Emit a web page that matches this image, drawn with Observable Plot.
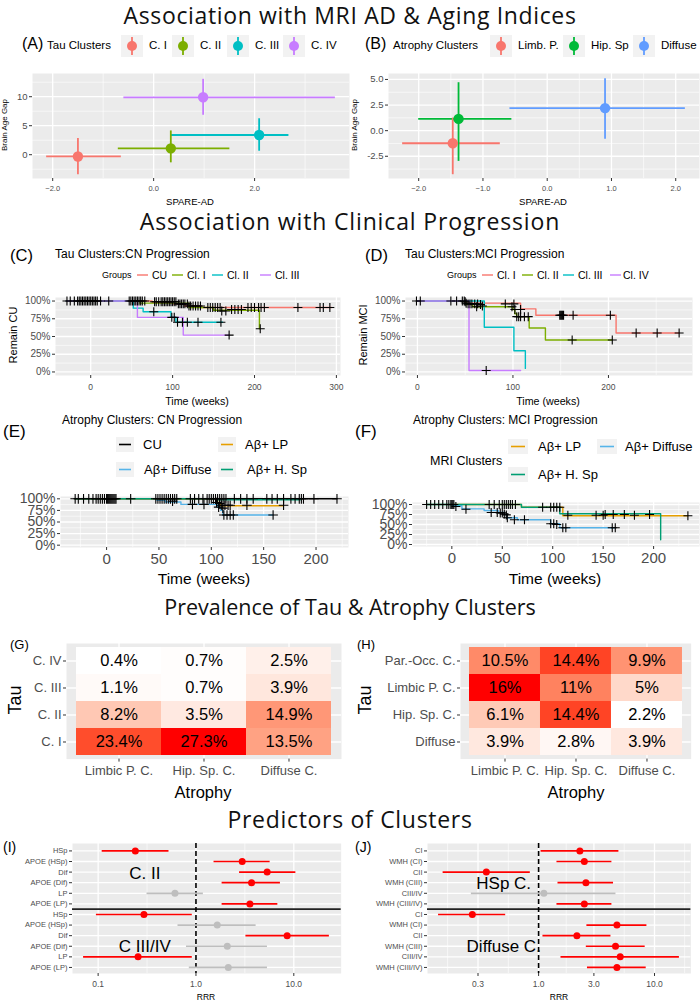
<!DOCTYPE html>
<html>
<head>
<meta charset="utf-8">
<script src="https://cdn.jsdelivr.net/npm/d3@7"></script>
<script src="https://cdn.jsdelivr.net/npm/@observablehq/plot@0.6"></script>
<style>
html,body{margin:0;padding:0;background:#fff;}
#root{position:relative;width:700px;height:1001px;overflow:hidden;background:#fff;}
</style>
</head>
<body>
<div id="root"></div>
<script>
// ================= DATA =================
// (A) Tau clusters: SPARE-AD vs Brain Age Gap (mean and CI)
const tauClusters = ["C. I", "C. II", "C. III", "C. IV"];
const tauSpareAD  = [-1.50, 0.34, 2.09, 0.98];
const tauSpareLo  = [-2.12, -0.70, 0.35, -0.59];
const tauSpareHi  = [-0.64, 1.51, 2.68, 3.60];
const tauBAG      = [-0.30, 1.10, 3.40, 9.90];
const tauBAGLo    = [-3.45, -1.40, 0.60, 6.80];
const tauBAGHi    = [2.80, 4.10, 6.20, 13.00];
// (B) Atrophy clusters
const atrClusters = ["Limb. P.", "Hip. Sp", "Diffuse"];
const atrSpareAD  = [-1.47, -1.38, 0.90];
const atrSpareLo  = [-2.25, -2.00, -0.58];
const atrSpareHi  = [-0.73, -0.55, 2.15];
const atrBAG      = [-1.23, 1.15, 2.20];
const atrBAGLo    = [-4.30, -3.00, -0.85];
const atrBAGHi    = [1.23, 4.68, 5.07];

// (C) Tau clusters, CN progression: [weeks, % remaining]
const groupsC = ["CU", "Cl. I", "Cl. II", "Cl. III"];
const kmC_CU  = [[-30,100],[75,98],[100,96],[115,93],[135,91],[294,91]];
const kmC_C1  = [[-30,100],[60,97],[120,91],[150,87],[206,61]];
const kmC_C2  = [[-30,100],[52,90],[64,85],[98,77],[104,70],[161,70]];
const kmC_C3  = [[-30,100],[57,77],[113,52],[169,52]];
const censorC = [[-29,100],[-25,100],[-20,100],[-16,100],[-14,100],[-12,100],[-10,100],[-8,100],[-6,100],[-4,100],[-2,100],[0,100],[2,100],[4,100],[6,100],[8,100],[12,100],[22,100],
  [47,100],[49,100],[51,100],[53,100],[55,100],[57,100],[59,100],[61,100],[63,100],[66,100],
  [78,99],[80,99],[83,99],[86,99],[88,99],[90,99],[92,99],[94,99],[96,99],[98,99],[100,99],[102,99],[104,99],
  [107,96],[109,96],[111,96],[113,96],[115,96],[118,96],[120,93],[122,93],[125,93],[128,93],[131,93],[134,93],
  [143,91],[146,91],[149,91],[152,91],[155,91],[158,91],[160,86],[165,86],[172,88],[176,88],[180,88],[184,88],
  [192,91],[196,91],[200,91],[205,91],[208,91],[212,91],[253,91],[280,91],[284,91],[292,91],
  [77,85],[99,77],[102,77],[106,70],[112,70],[118,70],[131,70],[159,70],[169,52],[207,61]];

// (D) Tau clusters, MCI progression
const groupsD = ["Cl. I", "Cl. II", "Cl. III", "Cl. IV"];
const kmD_C1  = [[-1,100],[50,97],[108,89],[124,80],[208,55],[274,55]];
const kmD_C2  = [[-1,100],[51,95],[58,92],[100,88],[102,82],[104,78],[117,62],[134,45],[204,45]];
const kmD_C3  = [[-1,100],[70,63],[101,30],[113,5]];
const kmD_C4  = [[-1,100],[54,2],[108,2]];
const censorD = [[-1,100],[3,100],[35,100],[41,100],[47,100],[49,100],[50,99],[51,97],[53,96],[55,96],[57,96],[60,96],[63,96],[66,95],[68,93],[62,92],
  [92,96],[101,96],[99,92],[102,88],[108,88],[104,78],[106,78],[108,78],[112,78],[116,78],
  [149,80],[150,80],[151,80],[152,80],[153,80],[163,80],[202,80],[229,55],[251,55],[274,55],[162,45],[204,45],[72,2]];

// (E) Atrophy clusters, CN progression
const groupsE = ["CU", "Aβ+ Diffuse", "Aβ+ LP", "Aβ+ H. Sp"];
const kmE_CU  = [[-30,100],[220,100]];
const kmE_Dif = [[-30,100],[48,97],[56,93],[71,88],[106,82],[109,75],[111,65],[159,65]];
const kmE_LP  = [[-30,100],[106,90],[109,85],[169,85]];
const kmE_HSp = [[-30,100],[105,98],[185,98]];
const censorE = [[-30,100],[-27,100],[-22,100],[-17,100],[-13,100],[-10,100],[-8,100],[-6,100],[-4,100],[-2,100],[0,100],[1,100],[2,100],[3,100],[4,100],[5,100],[6,100],[7,100],[8,100],[9,100],[23,100],
  [47,100],[49,100],[51,100],[53,100],[55,100],[57,100],[59,100],[61,100],[63,100],[65,100],[67,100],
  [80,100],[84,100],[88,100],[92,100],[96,100],[98,100],[100,100],[102,100],[104,100],[106,100],[108,100],[110,100],[112,100],[114,100],
  [122,100],[128,100],[134,100],[140,100],[153,100],[158,100],[163,100],[169,100],[176,100],[180,100],[184,100],[186,100],[188,100],[198,100],[220,100],
  [63,95],[82,88],[93,88],[107,82],[112,65],[115,65],[118,65],[121,65],[159,65],
  [110,86],[113,86],[116,86],[118,86],[134,86],[169,86],[105,92],[108,90],[111,80]];

// (F) Atrophy clusters, MCI progression
const groupsF = ["Aβ+ LP", "Aβ+ Diffuse", "Aβ+ H. Sp"];
const kmF_LP  = [[-25,100],[69,93],[110,72],[234,72]];
const kmF_Dif = [[-25,100],[1,97],[10,89],[32,85],[46,80],[52,75],[55,67],[65,62],[98,52],[107,42],[161,42]];
const kmF_HSp = [[-25,100],[69,93],[107,77],[207,12]];
const censorF = [[-25,100],[-21,100],[-17,100],[-13,100],[-9,100],[-5,100],[-3,100],[-1,100],[0,100],[1,100],[2,100],
  [37,100],[42,100],[47,100],[50,100],[52,100],[54,100],[56,100],[58,100],[60,100],[63,100],
  [90,93],[98,93],[101,93],[104,93],[107,93],
  [4,95],[14,88],[39,80],[45,80],[48,79],[50,79],[52,76],[54,74],[55,67],[62,62],[72,62],[98,52],[101,52],[104,50],[110,42],[113,42],[159,42],[162,42],
  [115,73],[143,73],[150,73],[152,75],[160,75],[171,75],[181,73],[196,75],[234,72]];

// (G)/(H) Prevalence heatmaps (%), rows top to bottom
const atrophyCats = ["Limbic P. C.", "Hip. Sp. C.", "Diffuse C."];
const tauRowsG = ["C. IV", "C. III", "C. II", "C. I"];
const prevG = [[0.4, 0.7, 2.5], [1.1, 0.7, 3.9], [8.2, 3.5, 14.9], [23.4, 27.3, 13.5]];
const tauRowsH = ["Par.-Occ. C.", "Limbic P. C.", "Hip. Sp. C.", "Diffuse"];
const prevH = [[10.5, 14.4, 9.9], [16, 11, 5], [6.1, 14.4, 2.2], [3.9, 2.8, 3.9]];

// (I) Predictors of tau clusters (RRR, 95% CI)
const predLabelsI = ["HSp", "APOE (HSp)", "Dif", "APOE (Dif)", "LP", "APOE (LP)", "HSp", "APOE (HSp)", "Dif", "APOE (Dif)", "LP", "APOE (LP)"];
const rrrI   = [0.24, 2.97, 5.34, 3.70, 0.61, 3.56, 0.294, 1.65, 8.55, 2.09, 0.256, 2.14];
const rrrILo = [0.11, 1.53, 2.79, 1.85, 0.316, 1.85, 0.096, 0.655, 3.24, 0.80, 0.071, 0.855];
const rrrIHi = [0.53, 5.73, 10.5, 7.30, 1.19, 6.87, 0.917, 4.12, 23.1, 5.38, 0.917, 5.38];
const sigI   = [1, 1, 1, 1, 0, 1, 1, 0, 1, 0, 1, 0];
// (J) Predictors of atrophy clusters
const predLabelsJ = ["CI", "WMH (CI)", "CII", "WMH (CIII)", "CIII/IV", "WMH (CIII/IV)", "CI", "WMH (CI)", "CII", "WMH (CIII)", "CIII/IV", "WMH (CIII/IV)"];
const rrrJ   = [2.27, 2.48, 0.354, 2.56, 1.11, 2.48, 0.268, 4.74, 2.14, 4.61, 5.06, 4.74];
const rrrJLo = [1.05, 1.44, 0.15, 1.47, 0.263, 1.44, 0.137, 2.61, 1.09, 2.58, 1.56, 2.64];
const rrrJHi = [4.93, 4.29, 0.848, 4.43, 4.65, 4.29, 0.52, 8.6, 4.21, 8.31, 16.4, 8.48];
const sigJ   = [1, 1, 1, 1, 0, 1, 1, 1, 1, 1, 1, 1];

// ================= STYLE =================
const FONT = '"Liberation Sans", Arial, sans-serif';
const TITLEFONT = '"Open Sans", "Noto Sans", sans-serif';
const tauPal = ["#F8766D", "#7CAE00", "#00BFC4", "#C77CFF"];
const atrPal = ["#F8766D", "#00BA38", "#619CFF"];
const okabeE = ["#000000", "#56B4E9", "#E69F00", "#009E73"];
const okabeF = ["#E69F00", "#56B4E9", "#009E73"];
const PANEL = "#EBEBEB", AX = "#4D4D4D", TK = "#333333";

const root = document.getElementById("root");

function label(str, x, y, o = {}) {
  const d = document.createElement("div");
  d.textContent = str;
  const tx = o.anchor === "middle" ? "-50%" : o.anchor === "end" ? "-100%" : "0";
  d.style.cssText = `position:absolute;white-space:nowrap;line-height:1;left:${x}px;top:${y}px;` +
    `font-family:${o.font || FONT};font-size:${o.size || 10}px;color:${o.color || "#000"};` +
    (o.spacing ? `letter-spacing:${o.spacing}px;` : "") +
    `transform:translate(${o.rotate ? "-50%" : tx},-50%)${o.rotate ? ` rotate(${o.rotate}deg)` : ""};`;
  root.appendChild(d);
}
function glyph(x, y, w, h, inner) {
  const d = document.createElement("div");
  d.style.cssText = `position:absolute;left:${x}px;top:${y}px;width:${w}px;height:${h}px;`;
  d.innerHTML = `<svg width="${w}" height="${h}" xmlns="http://www.w3.org/2000/svg" style="display:block">${inner}</svg>`;
  root.appendChild(d);
}
function panel(o) {
  const {fx, fy, fw, fh, ml = 40, mr = 10, mt = 6, mb = 30, ...rest} = o;
  const svg = Plot.plot({
    width: ml + fw + mr, height: mt + fh + mb,
    marginLeft: ml, marginRight: mr, marginTop: mt, marginBottom: mb,
    style: {fontFamily: FONT, background: "transparent", overflow: "visible", color: AX},
    ...rest
  });
  svg.style.position = "absolute";
  svg.style.left = (fx - ml) + "px";
  svg.style.top = (fy - mt) + "px";
  svg.style.maxWidth = "none";
  root.appendChild(svg);
}
const white = (vals, w) => [Plot.ruleX(vals.x, {stroke: "white", strokeWidth: w}), Plot.ruleY(vals.y, {stroke: "white", strokeWidth: w})];

// ================= SECTION TITLES =================
label("Association with MRI AD & Aging Indices", 350, 15, {anchor: "middle", size: 23, spacing: 0.65, font: TITLEFONT, color: "#111"});
label("Association with Clinical Progression", 350, 221, {anchor: "middle", size: 23, spacing: 0.85, font: TITLEFONT, color: "#111"});
label("Prevalence of Tau & Atrophy Clusters", 350, 607, {anchor: "middle", size: 21.5, font: TITLEFONT, color: "#111"});
label("Predictors of Clusters", 350, 819, {anchor: "middle", size: 23, spacing: 0.7, font: TITLEFONT, color: "#111"});

// ================= A / B =================
function scatterPanel(o) {
  const rows = o.names.map((n, i) => ({n, x: o.x[i], xlo: o.xlo[i], xhi: o.xhi[i], y: o.y[i], ylo: o.ylo[i], yhi: o.yhi[i]}));
  panel({
    fx: o.fx, fy: o.fy, fw: o.fw, fh: o.fh, ml: 34, mr: 6, mt: 6, mb: 22,
    x: {domain: o.xd}, y: {domain: o.yd},
    color: {domain: o.names, range: o.pal},
    marks: [
      Plot.frame({fill: PANEL, stroke: "none"}),
      ...white({x: o.xMinor, y: o.yMinor}, 0.6),
      ...white({x: o.xMajor, y: o.yMajor}, 1.3),
      Plot.ruleY(rows, {y: "y", x1: "xlo", x2: "xhi", stroke: "n", strokeWidth: 1.8}),
      Plot.ruleX(rows, {x: "x", y1: "ylo", y2: "yhi", stroke: "n", strokeWidth: 1.8}),
      Plot.dot(rows, {x: "x", y: "y", fill: "n", r: 5.2}),
      Plot.axisX({ticks: o.xMajor, tickSize: 3, tickPadding: 4, fontSize: 7.5, label: null, stroke: TK, fill: AX}),
      Plot.axisY({ticks: o.yMajor, tickFormat: o.yFmt, tickSize: 3, tickPadding: 2, fontSize: 9.5, label: null, stroke: TK, fill: AX})
    ]
  });
}
scatterPanel({fx: 32, fy: 73, fw: 317, fh: 105, xd: [-2.4, 3.88], yd: [-4.1, 14],
  names: tauClusters, pal: tauPal, x: tauSpareAD, xlo: tauSpareLo, xhi: tauSpareHi, y: tauBAG, ylo: tauBAGLo, yhi: tauBAGHi,
  xMajor: [-2, 0, 2], xMinor: [-1, 1, 3], yMajor: [0, 5, 10], yMinor: [-2.5, 2.5, 7.5, 12.5], yFmt: d => d});
scatterPanel({fx: 388, fy: 73, fw: 311, fh: 105, xd: [-2.47, 2.37], yd: [-4.67, 5.58],
  names: atrClusters, pal: atrPal, x: atrSpareAD, xlo: atrSpareLo, xhi: atrSpareHi, y: atrBAG, ylo: atrBAGLo, yhi: atrBAGHi,
  xMajor: [-2, -1, 0, 1, 2], xMinor: [-1.5, -0.5, 0.5, 1.5], yMajor: [-2.5, 0, 2.5, 5], yMinor: [-3.75, -1.25, 1.25, 3.75], yFmt: d => d.toFixed(1)});

label("(A)", 22, 44, {size: 16});
label("Tau Clusters", 47, 46, {size: 11.5});
[121, 172, 227, 283].forEach((x, i) => {
  glyph(x, 35, 22, 22, `<rect width="22" height="22" fill="#F2F2F2"/><line x1="11" x2="11" y1="2" y2="20" stroke="${tauPal[i]}" stroke-width="1.8"/><circle cx="11" cy="11" r="5" fill="${tauPal[i]}"/>`);
  label(tauClusters[i], x + 28, 46, {size: 11.5});
});
label("(B)", 365, 44, {size: 16});
label("Atrophy Clusters", 393, 46, {size: 11.5});
[490, 563, 633].forEach((x, i) => {
  glyph(x, 35, 22, 22, `<rect width="22" height="22" fill="#F2F2F2"/><line x1="11" x2="11" y1="2" y2="20" stroke="${atrPal[i]}" stroke-width="1.8"/><circle cx="11" cy="11" r="5" fill="${atrPal[i]}"/>`);
  label(atrClusters[i], x + 28, 46, {size: 11.5});
});
label("Brain Age Gap", 5, 125, {size: 8, rotate: -90});
label("Brain Age Gap", 355, 125, {size: 8, rotate: -90});
label("SPARE-AD", 190, 202, {anchor: "middle", size: 9.5});
label("SPARE-AD", 543, 202, {anchor: "middle", size: 9.5});

// ================= C / D / E / F (Kaplan-Meier) =================
function kmPanel(o) {
  const rows = o.curves.flatMap(([g, pts]) => pts.map(([t, s]) => ({g, t, s})));
  const cens = o.censors.map(([t, s]) => ({t, s}));
  panel({
    fx: o.fx, fy: o.fy, fw: o.fw, fh: o.fh, ml: 45, mr: 8, mt: 6, mb: 30,
    x: {domain: o.xd}, y: {domain: [-5, 105]},
    color: {domain: o.groups, range: o.pal},
    marks: [
      Plot.frame({fill: PANEL, stroke: "none"}),
      ...white({x: o.xMinor, y: [12.5, 37.5, 62.5, 87.5]}, 0.6),
      ...white({x: o.xMajor, y: [0, 25, 50, 75, 100]}, 1.3),
      Plot.line(rows, {x: "t", y: "s", z: "g", stroke: "g", curve: "step-after", strokeWidth: 1.4}),
      Plot.dot(cens, {x: "t", y: "s", symbol: "plus", r: o.plusR, stroke: "black", strokeWidth: 1.1}),
      Plot.axisX({ticks: o.xMajor, tickSize: 3, tickPadding: o.xPad, fontSize: o.xFs, label: null, stroke: TK, fill: AX}),
      Plot.axisY({ticks: [0, 25, 50, 75, 100], tickFormat: d => d + "%", tickSize: 3, tickPadding: 2, fontSize: o.yFs, label: null, stroke: TK, fill: AX})
    ]
  });
}
kmPanel({fx: 55, fy: 297, fw: 285, fh: 78, xd: [-43, 305], groups: groupsC, pal: tauPal,
  curves: [["CU", kmC_CU], ["Cl. I", kmC_C1], ["Cl. II", kmC_C2], ["Cl. III", kmC_C3]], censors: censorC,
  xMajor: [0, 100, 200, 300], xMinor: [50, 150, 250], plusR: 3, xFs: 8.5, yFs: 10, xPad: 5});
kmPanel({fx: 405, fy: 297, fw: 287, fh: 78, xd: [-12.5, 288], groups: groupsD, pal: tauPal,
  curves: [["Cl. I", kmD_C1], ["Cl. II", kmD_C2], ["Cl. III", kmD_C3], ["Cl. IV", kmD_C4]], censors: censorD,
  xMajor: [0, 100, 200], xMinor: [50, 150, 250], plusR: 3, xFs: 8.5, yFs: 10, xPad: 5});
kmPanel({fx: 60, fy: 496, fw: 288, fh: 51, xd: [-44, 231], groups: groupsE, pal: okabeE,
  curves: [["CU", kmE_CU], ["Aβ+ Diffuse", kmE_Dif], ["Aβ+ LP", kmE_LP], ["Aβ+ H. Sp", kmE_HSp]], censors: censorE,
  xMajor: [0, 50, 100, 150, 200], xMinor: [-25, 25, 75, 125, 175, 225], plusR: 3.2, xFs: 15, yFs: 14, xPad: 3});
kmPanel({fx: 412, fy: 502, fw: 287, fh: 44, xd: [-39, 245.5], groups: groupsF, pal: okabeF,
  curves: [["Aβ+ LP", kmF_LP], ["Aβ+ Diffuse", kmF_Dif], ["Aβ+ H. Sp", kmF_HSp]], censors: censorF,
  xMajor: [0, 50, 100, 150, 200], xMinor: [-25, 25, 75, 125, 175, 225], plusR: 3, xFs: 15, yFs: 14, xPad: 3});

// C / D headers and legends
label("(C)", 10, 255, {size: 16.5});
label("Tau Clusters:CN Progression", 55, 254, {size: 12});
label("Groups", 102, 275, {size: 9});
[[137, 152], [172, 187], [212, 227], [260, 275]].forEach(([k, t], i) => {
  glyph(k, 270, 11, 10, `<line x1="0" x2="11" y1="5" y2="5" stroke="${tauPal[i]}" stroke-width="1.4"/>`);
  label(groupsC[i], t, 275, {size: 10.5});
});
label("(D)", 365, 255, {size: 16.5});
label("Tau Clusters:MCI Progression", 405, 254, {size: 12});
label("Groups", 447, 275, {size: 9});
[[482, 497], [522, 537], [563, 578], [610, 623]].forEach(([k, t], i) => {
  glyph(k, 270, 11, 10, `<line x1="0" x2="11" y1="5" y2="5" stroke="${tauPal[i]}" stroke-width="1.4"/>`);
  label(groupsD[i], t, 275, {size: 10.5});
});
label("Remain CU", 13, 335, {size: 11, rotate: -90});
label("Remain MCI", 363, 335, {size: 11, rotate: -90});
label("Time (weeks)", 197, 401, {anchor: "middle", size: 10.7});
label("Time (weeks)", 548, 401, {anchor: "middle", size: 10.7});

// E / F headers and legends
label("(E)", 3, 431, {size: 17});
label("Atrophy Clusters: CN Progression", 62, 420, {size: 12});
[[116, 437, 143, 444, 0], [218, 437, 245, 444, 2], [116, 462, 144, 469, 1], [218, 462, 247, 469, 3]].forEach(([kx, ky, tx, ty, i]) => {
  glyph(kx, ky, 18, 15, `<rect width="18" height="15" fill="#F2F2F2"/><line x1="3" x2="15" y1="7.5" y2="7.5" stroke="${okabeE[i]}" stroke-width="1.6"/>`);
  label(groupsE[i], tx, ty, {size: 13});
});
label("(F)", 355, 431, {size: 17});
label("Atrophy Clusters: MCI Progression", 413, 420, {size: 12});
label("MRI Clusters", 430, 461, {size: 12.5});
[[508, 439, 538, 446, 0], [597, 439, 625, 446, 1], [508, 467, 538, 474, 2]].forEach(([kx, ky, tx, ty, i]) => {
  glyph(kx, ky, 20, 15, `<rect width="20" height="15" fill="#F2F2F2"/><line x1="3" x2="17" y1="7.5" y2="7.5" stroke="${okabeF[i]}" stroke-width="1.6"/>`);
  label(groupsF[i], tx, ty, {size: 13});
});
label("Time (weeks)", 204, 579, {anchor: "middle", size: 15.5});
label("Time (weeks)", 555, 579, {anchor: "middle", size: 15.5});

// ================= G / H heatmaps =================
function heat(o) {
  const cells = o.rows.flatMap((r, i) => atrophyCats.map((c, j) => ({tau: r, atr: c, v: o.vals[i][j]})));
  panel({
    fx: o.fx, fy: o.fy, fw: o.fw, fh: o.fh, ml: 80, mr: 8, mt: 6, mb: 40,
    x: {type: "band", domain: atrophyCats, padding: 0, insetLeft: o.il, insetRight: o.ir},
    y: {type: "band", domain: o.rows, padding: 0, insetTop: 3.3, insetBottom: 2.3},
    color: {type: "linear", domain: d3.extent(cells, d => d.v), range: ["white", "red"], interpolate: "lab"},
    marks: [
      Plot.frame({fill: PANEL, stroke: "none"}),
      Plot.gridX({stroke: "white", strokeOpacity: 1, strokeWidth: 1.3}),
      Plot.gridY({stroke: "white", strokeOpacity: 1, strokeWidth: 1.3}),
      Plot.cell(cells, {x: "atr", y: "tau", fill: "v"}),
      Plot.text(cells, {x: "atr", y: "tau", text: d => d.v + "%", fontSize: 16.5, fill: "black"}),
      Plot.axisX({tickSize: 3, tickPadding: 4, fontSize: 13, label: null, stroke: TK, fill: AX}),
      Plot.axisY({tickSize: 3, tickPadding: 2, fontSize: 13, label: null, stroke: TK, fill: AX})
    ]
  });
}
heat({fx: 66, fy: 642.7, fw: 275, fh: 115.6, il: 9, ir: 8.3, rows: tauRowsG, vals: prevG});
heat({fx: 460, fy: 642.7, fw: 230.7, fh: 115.6, il: 8.3, ir: 7.4, rows: tauRowsH, vals: prevH});
label("(G)", 10, 644, {size: 13});
label("(H)", 357, 644, {size: 13});
label("Tau", 15, 700, {size: 18, rotate: -90});
label("Tau", 365, 700, {size: 18, rotate: -90});
label("Atrophy", 203, 792, {anchor: "middle", size: 16.5});
label("Atrophy", 576, 792, {anchor: "middle", size: 16.5});

// ================= I / J forest plots =================
function forest(o) {
  const rows = o.labels.map((l, i) => ({i, est: o.est[i], lo: o.lo[i], hi: o.hi[i], sig: o.sig[i]}));
  panel({
    fx: o.fx, fy: o.fy, fw: o.fw, fh: o.fh, ml: 70, mr: 8, mt: 6, mb: 30,
    x: {type: "log", domain: o.xd}, y: {domain: [11.57, -0.7]},
    color: {type: "ordinal", domain: [1, 0], range: ["#FF0000", "#BEBEBE"]},
    marks: [
      Plot.frame({fill: PANEL, stroke: "none"}),
      Plot.ruleX(o.xMinor, {stroke: "white", strokeWidth: 0.6}),
      Plot.ruleX(o.xMajor, {stroke: "white", strokeWidth: 1.3}),
      Plot.ruleY(d3.range(12), {stroke: "white", strokeWidth: 1.3}),
      Plot.ruleY([5.5], {stroke: "#222", strokeWidth: 1.7}),
      Plot.ruleX([1], {stroke: "black", strokeWidth: 1.6, strokeDasharray: "5,3"}),
      Plot.ruleY(rows, {y: "i", x1: "lo", x2: "hi", stroke: "sig", strokeWidth: 1.7}),
      Plot.dot(rows, {x: "est", y: "i", fill: "sig", r: 3.5}),
      Plot.text(o.notes, {x: "x", y: "y", text: "t", fontSize: 17, fill: "black"}),
      Plot.axisX({ticks: o.xMajor, tickFormat: d => d.toFixed(1), tickSize: 3, tickPadding: 4, fontSize: 8.5, label: null, stroke: TK, fill: AX}),
      Plot.axisY({ticks: d3.range(12), tickFormat: i => o.labels[i], tickSize: 3, tickPadding: 2, fontSize: 7.5, label: null, stroke: TK, fill: AX})
    ]
  });
}
forest({fx: 72, fy: 843.3, fw: 268.7, fh: 130, xd: [0.0547, 30.5], xMajor: [0.1, 1, 10], xMinor: [0.316, 3.16],
  labels: predLabelsI, est: rrrI, lo: rrrILo, hi: rrrIHi, sig: sigI,
  notes: [{t: "C. II", x: 0.30, y: 2.13}, {t: "C III/IV", x: 0.30, y: 9.0}]});
forest({fx: 427.3, fy: 843.3, fw: 263.4, fh: 130, xd: [0.110, 20.6], xMajor: [0.3, 1, 3, 10], xMinor: [0.164, 0.548, 1.73, 5.48, 18.2],
  labels: predLabelsJ, est: rrrJ, lo: rrrJLo, hi: rrrJHi, sig: sigJ,
  notes: [{t: "HSp C.", x: 0.50, y: 3.08}, {t: "Diffuse C.", x: 0.50, y: 9.06}]});
label("(I)", 3, 847, {size: 14});
label("(J)", 355, 847, {size: 14});
label("RRR", 206, 997, {anchor: "middle", size: 8.5});
label("RRR", 559, 997, {anchor: "middle", size: 8.5});
</script>
</body>
</html>
